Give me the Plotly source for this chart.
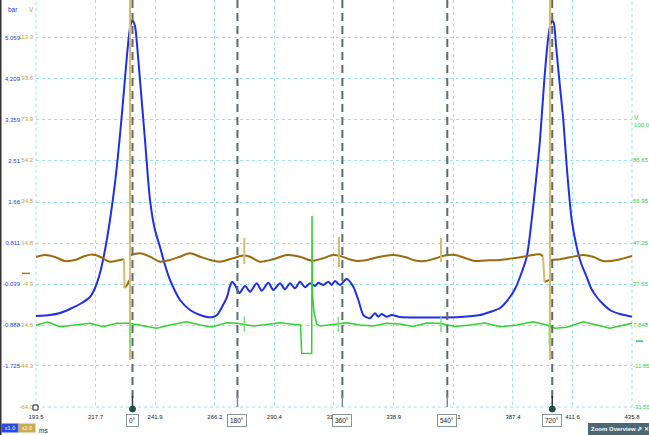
import plotly.graph_objects as go

# ---------------- axes / ticks ----------------
x_ticks = [193.5, 217.7, 241.9, 266.2, 290.4, 314.6, 338.9, 363.1, 387.4, 411.6, 435.8]
x_range = [193.5, 435.8]

bar_ticks = [5.059, 4.209, 3.359, 2.51, 1.66, 0.811, -0.039, -0.888, -1.725]
bar_range = [-2.575, 5.837]
vb_ticks = [113.3, 93.6, 73.9, 54.2, 34.5, 14.8, -4.9, -24.6, -44.3, -64.0]
vb_range = [-64.0, 130.97]
vg_ticks = [86.65, 66.95, 47.25, 27.55, 7.848, -11.85, -31.55]
vg_range = [-31.55, 163.42]

angle_labels = ["0°", "180°", "360°", "540°", "720°"]
angle_ms = [232.73, 275.39, 318.05, 360.71, 403.37]

# ---------------- blue: pressure (bar) ----------------
blue_t = [193.50, 199.19, 203.26, 207.32, 211.39, 215.45, 217.49, 219.52, 221.55, 223.58,
          225.62, 227.65, 229.28, 230.50, 231.72, 232.73, 233.75, 234.76, 235.78, 237.81,
          239.85, 241.88, 243.91, 245.94, 247.98, 250.01, 252.04, 256.11, 260.17, 263.02,
          265.46, 267.08, 269.12, 271.15, 272.37, 273.31, 274.40, 276.15, 278.47, 280.50,
          283.22, 285.26, 287.94, 289.97, 292.70, 294.73, 296.76, 298.79, 300.83, 302.86,
          304.89, 306.93, 308.27, 310.30, 312.33, 313.72, 315.06, 317.09, 319.81, 322.50,
          324.53, 326.56, 327.94, 329.29, 331.32, 332.66, 334.04, 336.08, 338.11, 341.48,
          349.61, 357.74, 365.88, 374.01, 378.07, 382.14, 386.20, 388.24, 390.27, 392.99,
          395.02, 396.77, 398.40, 400.15, 401.65, 402.67, 403.40, 404.09, 404.90, 406.25,
          407.87, 409.38, 411.29, 413.32, 415.07, 417.38, 419.13, 421.45, 424.01, 426.86,
          430.92, 435.80]
blue_bar = [-0.694, -0.674, -0.632, -0.549, -0.446, -0.301, -0.115, 0.195, 0.670, 1.290,
            2.055, 3.047, 3.977, 4.700, 5.259, 5.420, 5.300, 4.804, 4.184, 2.944,
            1.703, 1.083, 0.732, 0.360, 0.050, -0.177, -0.363, -0.570, -0.674, -0.715,
            -0.715, -0.674, -0.508, -0.301, -0.074, 0.009, -0.053, -0.219, -0.074, -0.192,
            -0.018, -0.171, -0.006, -0.157, -0.018, -0.142, -0.018, -0.122, 0.015, -0.101,
            -0.018, -0.074, -0.006, -0.053, 0.015, -0.053, 0.029, -0.053, 0.071, -0.088,
            -0.363, -0.674, -0.721, -0.742, -0.638, -0.709, -0.653, -0.709, -0.674, -0.715,
            -0.725, -0.725, -0.715, -0.674, -0.611, -0.529, -0.301, -0.136, 0.112, 0.525,
            1.290, 2.117, 2.944, 4.184, 5.011, 5.341, 5.410, 5.341, 4.907, 4.184,
            3.357, 2.324, 1.290, 0.732, 0.401, 0.112, -0.115, -0.301, -0.446, -0.570,
            -0.653, -0.709]

# ---------------- brown: voltage (V, left scale) ----------------
brown_t = [193.50, 197.16, 201.22, 205.29, 209.36, 213.42, 216.27, 219.52, 223.58, 227.65, 229.28, None,
           229.48, 230.50, 231.51, None,
           232.12, 235.78, 239.85, 243.91, 247.98, 252.04, 256.11, 260.17, 264.24, 268.30,
           273.59, 277.66, 280.50, 284.57, 289.85, 295.54, 300.83, 305.71, 310.18, 314.24,
           317.09, 321.16, 324.00, 328.07, 333.35, 338.64, 343.52, 347.58, 351.65, 355.71,
           359.78, 363.84, 367.91, 371.97, 376.04, 382.14, 387.42, 393.11, 398.40, 399.62, None,
           400.23, 402.06, None,
           402.67, 406.53, 410.59, 415.88, 419.95, 424.01, 429.70, 435.80]
brown_v = [7.85, 8.81, 7.85, 5.94, 6.42, 8.33, 9.05, 8.00, 5.60, 6.42, 6.75, None,
           -7.00, -5.56, -3.16, None,
           8.81, 9.63, 8.00, 5.60, 6.42, 8.00, 9.63, 8.00, 6.42, 5.60,
           7.23, 8.57, 8.00, 5.60, 6.75, 8.81, 8.00, 6.08, 7.23, 8.81,
           8.33, 6.66, 5.94, 6.42, 8.00, 8.81, 7.85, 6.18, 5.94, 7.14,
           8.57, 8.81, 7.38, 5.94, 6.18, 6.42, 7.23, 8.33, 9.15, 8.00, None,
           -4.12, -3.16, None,
           6.42, 6.75, 7.71, 8.81, 8.00, 5.94, 6.42, 8.33]
spike_t = [229.28, 229.48, None, 231.72, 231.72, None, 278.18, 278.18, None,
           316.68, 316.68, None, 358.15, 358.15, None, 399.62, 400.23, None, 402.46, 402.46]
spike_v = [6.75, -7.00, None, 136.0, -41.49, None, 16.96, 4.50, None,
           17.44, 3.06, None, 16.96, 5.46, None, 8.00, -4.12, None, 136.0, -41.49]

# ---------------- green: voltage (V, right scale) ----------------
green_t = [193.50, 198.38, 203.26, 209.36, 215.45, 220.74, 226.31, 231.31, 235.78, 242.57,
           247.98, 254.77, 260.17, 265.05, 271.03, 275.22, 281.84, 287.29, 292.70, 296.76,
           301.03, 301.52, 305.58, 305.71, 305.87, 306.52, 307.62, 308.96, 314.37, 319.81,
           325.22, 330.63, 336.08, 341.48, 346.77, 352.46, 358.15, 363.84, 369.94, 376.04,
           382.14, 388.93, 395.67, 401.12, 404.50, 409.25, 416.00, 421.45, 426.86, 435.80]
green_v = [7.73, 9.17, 6.92, 7.73, 8.55, 6.92, 8.55, 8.55, 7.73, 6.15,
           7.73, 9.31, 7.73, 6.77, 8.83, 8.55, 7.25, 8.21, 8.83, 8.21,
           7.73, -5.83, -5.92, 59.94, 22.92, 13.96, 8.21, 7.25, 8.21, 8.83,
           7.73, 7.25, 8.55, 8.21, 7.01, 8.69, 8.45, 7.01, 7.73, 8.69,
           6.92, 7.73, 9.31, 7.73, 6.15, 6.63, 9.31, 7.73, 6.15, 8.55]
gspike_t = [231.72, 231.72, None, 278.18, 278.18, None, 316.40, 316.40, None,
            358.15, 358.15, None, 402.18, 402.18]
gspike_v = [8.55, -4.25, None, 11.71, 4.52, None, 11.71, 4.52, None,
            11.56, 4.38, None, 8.55, -1.85]

# ---------------- figure ----------------
W, H = 649, 435
ML, MR, MT, MB = 36, 17, 0, 28
PW, PH = W - ML - MR, H - MT - MB


def px(x):
    return (x - ML) / PW


def py(y):
    return (PH - y) / PH


FONT = "Liberation Sans, Arial, sans-serif"
GRID = "#9fe2e2"
TS = 6  # tick label size

fig = go.Figure()
fig.add_trace(go.Scatter(x=blue_t, y=blue_bar, yaxis="y", mode="lines",
                         line=dict(color="#1f2fe8", width=2, shape="spline", smoothing=0.7),
                         hoverinfo="skip", showlegend=False))
fig.add_trace(go.Scatter(x=brown_t, y=brown_v, yaxis="y2", mode="lines",
                         line=dict(color="#9b6a0c", width=2, shape="spline", smoothing=0.8),
                         connectgaps=False, hoverinfo="skip", showlegend=False))
fig.add_trace(go.Scatter(x=spike_t, y=spike_v, yaxis="y2", mode="lines",
                         line=dict(color="#d8bb72", width=2), connectgaps=False,
                         hoverinfo="skip", showlegend=False))
fig.add_trace(go.Scatter(x=green_t, y=green_v, yaxis="y3", mode="lines",
                         line=dict(color="#2fd22f", width=1.5),
                         hoverinfo="skip", showlegend=False))
fig.add_trace(go.Scatter(x=gspike_t, y=gspike_v, yaxis="y3", mode="lines",
                         line=dict(color="#72e672", width=1.5), connectgaps=False,
                         hoverinfo="skip", showlegend=False))

shapes = []
# dotted border of the plot area
for (x0, y0, x1, y1) in [(0, 0, 1, 0), (0, 0, 0, 1), (1, 0, 1, 1)]:
    shapes.append(dict(type="line", xref="paper", yref="paper", x0=x0, y0=y0, x1=x1, y1=y1,
                       line=dict(color=GRID, width=1, dash="dot"), layer="below"))
# crank-angle dashed markers
for i, a in enumerate(angle_ms):
    shapes.append(dict(type="line", xref="x", yref="paper", x0=a, x1=a, y0=py(398), y1=1,
                       line=dict(color="#5b6b70", width=2, dash="8px,5px")))
    dark = i in (0, 4)
    shapes.append(dict(type="line", xref="x", yref="paper", x0=a, x1=a, y0=py(407), y1=py(396),
                       line=dict(color="#2d3a3a" if dark else "#7d8a8a", width=1.5)))
    if dark:
        shapes.append(dict(type="circle", xref="x", yref="paper", xsizemode="pixel",
                           ysizemode="pixel", xanchor=a, yanchor=py(409),
                           x0=-3, x1=3, y0=-3, y1=3,
                           fillcolor="#1f5040", line=dict(color="#1f5040", width=1)))
# channel zero markers
shapes.append(dict(type="line", xref="paper", yref="y2", x0=px(22), x1=px(30), y0=0, y1=0,
                   line=dict(color="#a07820", width=1.5)))
shapes.append(dict(type="line", xref="paper", yref="y3", x0=px(636), x1=px(643), y0=0, y1=0,
                   line=dict(color="#33cc33", width=1.5)))
# trigger square
shapes.append(dict(type="rect", xref="paper", yref="paper", x0=px(33), x1=px(38),
                   y0=py(410), y1=py(405), line=dict(color="#222", width=1), fillcolor="white"))
# window left border
shapes.append(dict(type="rect", xref="paper", yref="paper", x0=px(0), x1=px(1.5),
                   y0=py(435), y1=py(0), line=dict(width=0), fillcolor="#333"))
# zoom overview bar
shapes.append(dict(type="rect", xref="paper", yref="paper", x0=px(588), x1=px(649),
                   y0=py(435), y1=py(423), line=dict(width=0), fillcolor="#4e6871"))

ann = []
for lab, a in zip(angle_labels, angle_ms):
    ann.append(dict(x=a, y=py(420), xref="x", yref="paper", text=lab, showarrow=False,
                    font=dict(family=FONT, size=6.5, color="#222"), bgcolor="white",
                    bordercolor="#8a9696", borderwidth=1, borderpad=2,
                    xanchor="center", yanchor="middle"))


def label(x, y, text, color, size=6.5, anchor="center", **kw):
    ann.append(dict(x=px(x), y=py(y), xref="paper", yref="paper", text=text,
                    showarrow=False, xanchor=anchor, yanchor="middle",
                    font=dict(family=FONT, size=size, color=color), **kw))


label(13, 9, "bar", "#2040d0")
label(31.5, 9, "V", "#c0a040")
label(632, 117, "V", "#33cc33", anchor="left")
label(632, 125, "100.0", "#33cc33", size=6, anchor="left")
label(9.5, 428, "x1.0", "#ffffff", size=5.5, bgcolor="#2a4ae6", borderpad=1, width=14)
label(26.5, 428, "x2.0", "#ffffff", size=5.5, bgcolor="#c9ab52", borderpad=1, width=14)
label(37, 430, "ms", "#222", size=6.5, anchor="left")
label(589, 429, "<b>Zoom Overview ⇗ ✕</b>", "#ffffff", size=6, anchor="left")

fig.update_layout(
    width=W, height=H, template="none",
    margin=dict(l=ML, r=MR, t=MT, b=MB, pad=0, autoexpand=False),
    paper_bgcolor="white", plot_bgcolor="white",
    showlegend=False,
    xaxis=dict(range=x_range, tickvals=x_ticks, ticktext=[f"{v:.1f}" for v in x_ticks],
               showgrid=True, gridcolor=GRID, griddash="dot", gridwidth=1,
               zeroline=False, showline=False, ticks="", automargin=False,
               tickfont=dict(family=FONT, size=TS, color="#222"), ticklabelstandoff=5),
    yaxis=dict(range=bar_range, tickvals=bar_ticks, ticktext=[str(v) for v in bar_ticks],
               showgrid=True, gridcolor=GRID, griddash="dot", gridwidth=1,
               zeroline=False, showline=False, ticks="", automargin=False,
               tickfont=dict(family=FONT, size=TS, color="#2040d0"), ticklabelstandoff=15),
    yaxis2=dict(range=vb_range, tickvals=vb_ticks, ticktext=[f"{v:.1f}" for v in vb_ticks],
                overlaying="y", side="left", anchor="x", showgrid=False, zeroline=False,
                showline=False, ticks="", automargin=False,
                tickfont=dict(family=FONT, size=TS, color="#c0a040"), ticklabelstandoff=2),
    yaxis3=dict(range=vg_range, tickvals=vg_ticks, ticktext=[str(v) for v in vg_ticks],
                overlaying="y", side="right", anchor="x", showgrid=False, zeroline=False,
                showline=False, ticks="", automargin=False,
                tickfont=dict(family=FONT, size=TS, color="#33cc33"), ticklabelstandoff=0),
    shapes=shapes, annotations=ann,
)

fig.write_html("out.html", config={"displayModeBar": False},
               post_script="document.body.style.margin='0';document.body.style.overflow='hidden';")
